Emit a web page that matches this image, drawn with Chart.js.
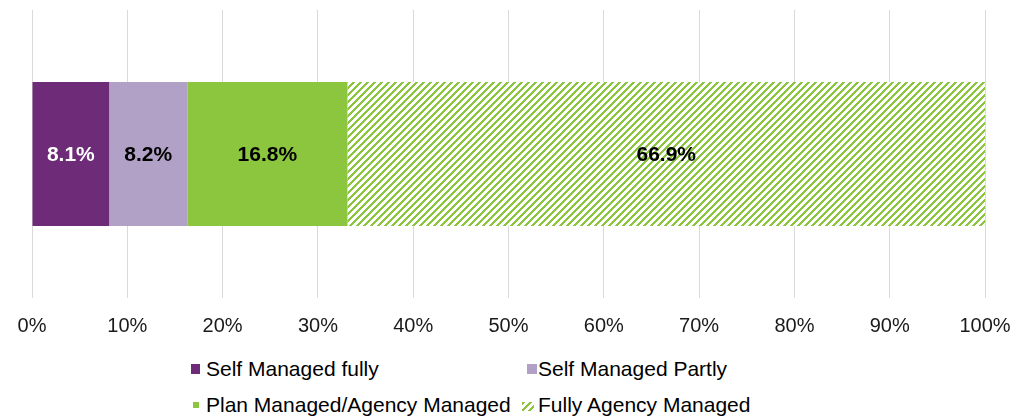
<!DOCTYPE html>
<html>
<head>
<meta charset="utf-8">
<script src="https://cdn.jsdelivr.net/npm/chart.js@4/dist/chart.umd.min.js"></script>
<style>
  html, body { margin: 0; padding: 0; background: #fff; }
  #wrap { position: relative; width: 1030px; height: 419px; overflow: hidden; }
  #chartBox { position: absolute; left: 0; top: 0; width: 1030px; height: 354px; }
  .legText { position: absolute; height: 24px; line-height: 24px; font-family: "Liberation Sans", Arial, sans-serif; font-size: 21px; color: #000; white-space: nowrap; }
  .legMark { position: absolute; display: block; }
</style>
</head>
<body>
<div id="wrap">
  <div id="chartBox"><canvas id="c"></canvas></div>
  <div id="legend"></div>
</div>
<script>
// ---- data ----
const categories = ['All'];
const seriesNames = ['Self Managed fully', 'Self Managed Partly', 'Plan Managed/Agency Managed', 'Fully Agency Managed'];
const selfManagedFully = [8.1];
const selfManagedPartly = [8.2];
const planManagedAgency = [16.8];
const fullyAgencyManaged = [66.9];
const xTickValues = [0, 10, 20, 30, 40, 50, 60, 70, 80, 90, 100];

// ---- styles ----
const purple = '#6E2B77';
const lavender = '#B2A1C7';
const green = '#8CC63F';
const FONT = '"Liberation Sans", Arial, sans-serif';

function makeHatch() {
  const s = 7;
  const t = document.createElement('canvas');
  t.width = s; t.height = s;
  const g = t.getContext('2d');
  const img = g.createImageData(s, s);
  for (let y = 0; y < s; y++) for (let x = 0; x < s; x++) {
    const i = (y * s + x) * 4;
    const on = ((x + y) % s) < 3;
    img.data[i] = on ? 0x8C : 255;
    img.data[i+1] = on ? 0xC6 : 255;
    img.data[i+2] = on ? 0x3F : 255;
    img.data[i+3] = 255;
  }
  g.putImageData(img, 0, 0);
  return document.getElementById('c').getContext('2d').createPattern(t, 'repeat');
}
const hatch = makeHatch();

const seriesValues = [selfManagedFully, selfManagedPartly, planManagedAgency, fullyAgencyManaged];
const seriesColors = [purple, lavender, green, hatch];
const labelColors = ['#ffffff', '#000000', '#000000', '#000000'];

const datasets = seriesNames.map((n, i) => ({
  label: n,
  data: seriesValues[i],
  backgroundColor: seriesColors[i],
  borderWidth: 0,
  barPercentage: 0.5,
  categoryPercentage: 1.0
}));

const valueLabels = {
  id: 'valueLabels',
  afterDatasetsDraw(chart) {
    const ctx = chart.ctx;
    ctx.save();
    ctx.font = 'bold 21px ' + FONT;
    ctx.textAlign = 'center';
    ctx.textBaseline = 'middle';
    chart.data.datasets.forEach((ds, i) => {
      const meta = chart.getDatasetMeta(i);
      meta.data.forEach((el, j) => {
        const cx = (el.x + el.base) / 2;
        ctx.fillStyle = labelColors[i];
        ctx.fillText(ds.data[j].toFixed(1) + '%', cx, el.y + 1);
      });
    });
    ctx.restore();
  }
};

new Chart(document.getElementById('c'), {
  type: 'bar',
  data: { labels: categories, datasets },
  options: {
    indexAxis: 'y',
    responsive: true,
    maintainAspectRatio: false,
    animation: false,
    layout: { padding: { left: 32, right: 45, top: 10, bottom: 0 } },
    plugins: { legend: { display: false }, tooltip: { enabled: false } },
    scales: {
      x: {
        stacked: true,
        min: 0, max: 100,
        afterBuildTicks(scale) { scale.ticks = xTickValues.map(v => ({ value: v })); },
        grid: { color: '#D9D9D9', lineWidth: 1, drawTicks: false },
        border: { display: false },
        ticks: {
          padding: 16,
          color: '#1a1a1a',
          font: { family: FONT, size: 20 },
          callback: v => v + '%',
          maxRotation: 0
        }
      },
      y: { stacked: true, display: false }
    }
  },
  plugins: [valueLabels]
});

// ---- HTML legend (two columns, two rows) ----
const legendTextPos = [[206, 357], [538, 357], [206, 393], [538, 393]];
const legendMarks = [
  { x: 191, y: 364, w: 9, h: 10, bg: purple },
  { x: 527, y: 364, w: 10, h: 10, bg: lavender },
  { x: 193, y: 402, w: 6, h: 6, bg: green },
  { x: 522, y: 402, w: 12, h: 9, bg: 'repeating-linear-gradient(135deg, ' + green + ' 0 2.5px, #fff 2.5px 5px)' }
];
const leg = document.getElementById('legend');
seriesNames.forEach((n, i) => {
  const m = legendMarks[i];
  const sq = document.createElement('span');
  sq.className = 'legMark';
  sq.style.left = m.x + 'px';
  sq.style.top = m.y + 'px';
  sq.style.width = m.w + 'px';
  sq.style.height = m.h + 'px';
  sq.style.background = m.bg;
  leg.appendChild(sq);
  const tx = document.createElement('span');
  tx.className = 'legText';
  tx.style.left = legendTextPos[i][0] + 'px';
  tx.style.top = legendTextPos[i][1] + 'px';
  tx.textContent = n;
  leg.appendChild(tx);
});
</script>
</body>
</html>
